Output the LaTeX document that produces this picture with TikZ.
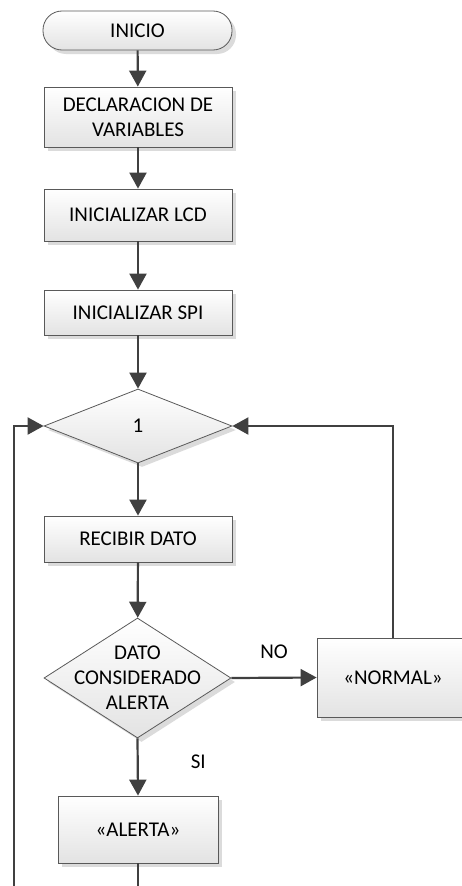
\documentclass[tikz,border=0pt]{standalone}
\usepackage{fontspec}
\setmainfont{Carlito}
\usetikzlibrary{shapes.geometric,arrows.meta,shadows}

\begin{document}
\begin{tikzpicture}[x=1pt,y=1pt,yscale=-1,xscale=1,
  every node/.style={font=\fontsize{21}{25}\selectfont, text=black},
  caja/.style={draw=black!65, line width=0.8pt, top color=white, bottom color=black!11,
    drop shadow={shadow xshift=4pt, shadow yshift=-4pt, fill=black!14, opacity=1},
    align=center, inner sep=0pt},
  rombo/.style={caja, diamond},
  flecha/.style={draw=black!75, line width=2.2pt, -{Triangle[length=16pt,width=17pt]}},
  etiq/.style={inner sep=0pt}]
\useasboundingbox (0,0) rectangle (462,886);
\clip (0,0) rectangle (462,886);

%Shape: Terminator
\node [caja, rounded corners=19pt, minimum width=189pt, minimum height=39pt] (inicio) at (137.5,30.5) {INICIO};
%Shape: Rectangle
\node [caja, minimum width=188pt, minimum height=60pt] (decl) at (138,117) {DECLARACION DE\\VARIABLES};
%Shape: Rectangle
\node [caja, minimum width=188pt, minimum height=52pt] (lcd) at (138,215) {INICIALIZAR LCD};
%Shape: Rectangle
\node [caja, minimum width=188pt, minimum height=45pt] (spi) at (138,312.5) {INICIALIZAR SPI};
%Shape: Diamond
\node [rombo, minimum width=188pt, minimum height=74pt, label={center:1}] (uno) at (138,426) {};
%Shape: Rectangle
\node [caja, minimum width=188pt, minimum height=46pt] (recibir) at (138,539) {RECIBIR DATO};
%Shape: Diamond
\node [rombo, minimum width=187pt, minimum height=120pt, label={[align=center]center:DATO\\CONSIDERADO\\ALERTA}] (dec) at (137.5,678) {};
%Shape: Rectangle
\node [caja, minimum width=152pt, minimum height=79pt] (normal) at (393,677.5) {«NORMAL»};
%Shape: Rectangle
\node [caja, minimum width=160pt, minimum height=67pt] (alerta) at (138,829.5) {«ALERTA»};

\coordinate (bajo) at (138,900);
\coordinate (izq) at (14,426);

%Straight Lines
\draw [flecha] (inicio) -- (decl);
\draw [flecha] (decl) -- (lcd);
\draw [flecha] (lcd) -- (spi);
\draw [flecha] (spi) -- (uno);
\draw [flecha] (uno) -- (recibir);
\draw [flecha] (recibir) -- (dec);

%Straight Lines
\draw [flecha] (dec.east) -- node [etiq, midway, above=18pt] (no) {NO} (normal.west);
\draw [flecha] (dec.south) -- node [etiq, pos=0.4, right=52pt] (si) {SI} (alerta.north);

%Loop Lines
\draw [flecha] (normal.north) |- (uno.east);
\draw [flecha] (alerta.south) -- (bajo) -| (izq) -- (uno.west);

\end{tikzpicture}
\end{document}
